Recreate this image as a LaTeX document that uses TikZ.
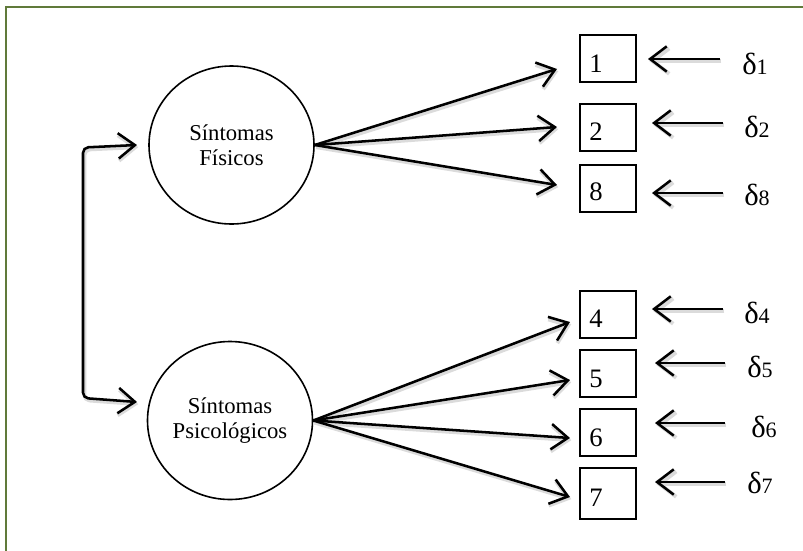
\documentclass[tikz,border=0pt]{standalone}
\usepackage{fontspec}
\setmainfont{Liberation Serif}
\usetikzlibrary{arrows.meta,shapes.geometric,calc}
\definecolor{framegreen}{RGB}{96,122,58}

\begin{document}
\begin{tikzpicture}[x=0.75pt,y=-0.75pt,
  latent/.style={draw, line width=1.2pt, ellipse, minimum width=123.75pt,
    minimum height=118.5pt, inner sep=0pt, align=center,
    font=\fontsize{17}{18.75}\selectfont},
  item/.style={draw, line width=1.2pt, minimum width=42pt,
    minimum height=35.25pt, inner sep=0pt},
  num/.style={anchor=base west, inner sep=0pt,
    font=\fontsize{20}{22}\selectfont},
  err/.style={anchor=base west, inner sep=0pt,
    font=\fontsize{23}{26}\selectfont},
  barb/.tip={Straight Barb[length=12.5pt,width=19pt]},
  link/.style={line width=1.9pt, -barb,
    preaction={draw=black!14, line width=2.9pt,
      transform canvas={shift={(1pt,-1.6pt)}}}},
]
\useasboundingbox (0,0) rectangle (803,550);

% outer frame (top and left edges)
\draw[framegreen, line width=1.6pt] (6,551) -- (6,7) -- (804,7);

% latent factors
\node[latent] (c1) at (231.5,145) {Síntomas\\Físicos};
\node[latent] (c2) at (230,420.5) {Síntomas\\Psicológicos};

% observed items
\node[item] (b1) at (608,58.5) {};
\node[item] (b2) at (608,127.5) {};
\node[item] (b8) at (608,188.5) {};
\node[item] (b4) at (608,314.5) {};
\node[item] (b5) at (608,373.5) {};
\node[item] (b6) at (608,432.5) {};
\node[item, minimum height=38.25pt] (b7) at (608,493.5) {};

\foreach \b/\t/\u in {b1/1/10,b2/2/11,b8/8/12,b4/4/11,b5/5/10,b6/6/10,b7/7/13}
  \node[num] (n\b) at ($(\b.south west)+(10,-\u)$) {\t};

% error terms
\newcommand{\errlabel}[1]{δ{\fontsize{16.5}{18}\selectfont #1}}
\node[err] (d1) at (742,74)  {\errlabel{1}};
\node[err] (d2) at (744,137) {\errlabel{2}};
\node[err] (d8) at (744,205) {\errlabel{8}};
\node[err] (d4) at (744,323) {\errlabel{4}};
\node[err] (d5) at (747,377) {\errlabel{5}};
\node[err] (d6) at (751,437) {\errlabel{6}};
\node[err] (d7) at (747,493) {\errlabel{7}};

% arrow tips of the loadings
\coordinate (t1) at (557,69);
\coordinate (t2) at (557,127);
\coordinate (t8) at (557,185);
\coordinate (t4) at (570,322);
\coordinate (t5) at (570,380);
\coordinate (t6) at (570,438);
\coordinate (t7) at (570,497);

\foreach \t in {t1,t2,t8}
  \draw[link] (c1.east) -- (\t);
\foreach \t in {t4,t5,t6,t7}
  \draw[link] (c2.east) -- (\t);

% error arrows
\foreach \k/\y/\xs/\xe in {1/59/720/648, 2/123/723/652, 8/193/723/652,
                            4/309/723/652, 5/363/725/655, 6/423/725/655,
                            7/482/725/655} {
  \coordinate (es\k) at (\xs,\y);
  \coordinate (ee\k) at (\xe,\y);
  \draw[link] (es\k) -- (ee\k);
}

% covariance between the factors
\coordinate (k1) at (137,145);
\coordinate (k2) at (137,402);
\draw[link, barb-barb, rounded corners=4pt] (k1) -- (83,147.5) -- (83,398) -- (k2);
\end{tikzpicture}
\end{document}
